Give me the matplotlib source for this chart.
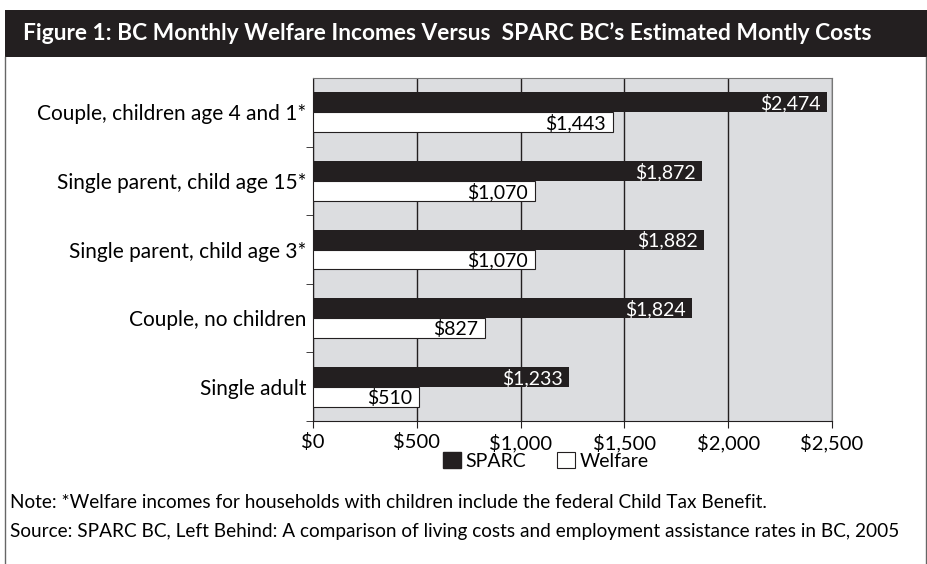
import numpy as np
import matplotlib
matplotlib.use("Agg")
import matplotlib.pyplot as plt
from matplotlib.patches import Patch, Rectangle
from matplotlib.lines import Line2D

plt.rcParams["font.family"] = ["Lato", "DejaVu Sans"]

# ---------------------------------------------------------------- data
categories = [
    "Couple, children age 4 and 1*",
    "Single parent, child age 15*",
    "Single parent, child age 3*",
    "Couple, no children",
    "Single adult",
]
sparc = [2474, 1872, 1882, 1824, 1233]
welfare = [1443, 1070, 1070, 827, 510]
xticks = [0, 500, 1000, 1500, 2000, 2500]

title = "Figure 1: BC Monthly Welfare Incomes Versus  SPARC BC\u2019s Estimated Montly Costs"
note = "Note: *Welfare incomes for households with children include the federal Child Tax Benefit."
source = ("Source: SPARC BC, Left Behind: A comparison of living costs and employment "
          "assistance rates in BC, 2005")

DARK = "#231f20"
W, H = 928, 564

fig = plt.figure(figsize=(W / 100, H / 100), dpi=100)

# ---------------------------------------------------------------- frame
fig.add_artist(Rectangle((5 / W, 1 - 57 / H), (W - 5) / W, 47 / H,
                         transform=fig.transFigure, color=DARK, lw=0))
fig.add_artist(Line2D([5.5 / W, 5.5 / W], [0, 1 - 57 / H], transform=fig.transFigure,
                      color="#666666", lw=1))
fig.add_artist(Line2D([926 / W, 926 / W], [0, 1 - 57 / H], transform=fig.transFigure,
                      color="#666666", lw=1))
fig.text(23 / W, 1 - 33 / H, title, color="white", fontsize=16.4, fontweight="bold",
         va="center", ha="left")

# ---------------------------------------------------------------- axes
ax = fig.add_axes([313 / W, 1 - 421 / H, (832 - 313) / W, (421 - 78) / H])
ax.set_facecolor("#dcdde0")

y = np.arange(len(categories))
h = 0.29
ax.barh(y - h / 2, sparc, height=h, color=DARK, zorder=3)
ax.barh(y + h / 2, welfare, height=h, color="white", edgecolor=DARK, lw=0.8, zorder=3)

for yi, s, w in zip(y, sparc, welfare):
    ax.annotate(f"${s:,}", (s, yi - h / 2), xytext=(-6, -1), textcoords="offset pixels",
                color="white", fontsize=14, ha="right", va="center", zorder=4)
    ax.annotate(f"${w:,}", (w, yi + h / 2), xytext=(-7, -1), textcoords="offset pixels",
                color="black", fontsize=14, ha="right", va="center", zorder=4)

ax.set_xlim(0, 2500)
ax.set_ylim(len(categories) - 0.5, -0.5)
ax.set_xticks(xticks)
ax.set_xticklabels([f"${v:,}" for v in xticks], fontsize=14.5)
ax.set_yticks(y)
ax.set_yticklabels(categories, fontsize=15)
ax.set_yticks(np.arange(0.5, len(categories), 1.0), minor=True)
ax.tick_params(axis="y", which="major", length=0, pad=5)
ax.tick_params(axis="y", which="minor", length=5, color=DARK)
ax.tick_params(axis="x", length=5, color=DARK, pad=4)
ax.grid(axis="x", color=DARK, lw=1, zorder=1)

for side in ["left", "bottom"]:
    ax.spines[side].set_color(DARK)
for side in ["top", "right"]:
    ax.spines[side].set_color("#777777")

# ---------------------------------------------------------------- legend
handles = [Patch(facecolor=DARK, edgecolor=DARK, label="SPARC"),
           Patch(facecolor="white", edgecolor=DARK, lw=0.8, label="Welfare")]
fig.legend(handles=handles, loc="center", bbox_to_anchor=(546 / W, 1 - 461 / H),
           ncol=2, frameon=False, fontsize=14, handlelength=0.9, handleheight=0.9,
           handletextpad=0.25, columnspacing=1.6)

# ---------------------------------------------------------------- notes
fig.text(10 / W, 1 - 502 / H, note, fontsize=13.7, va="center", ha="left")
fig.text(10 / W, 1 - 532 / H, source, fontsize=13.7, va="center", ha="left")

fig.savefig("out.png", dpi=100)
